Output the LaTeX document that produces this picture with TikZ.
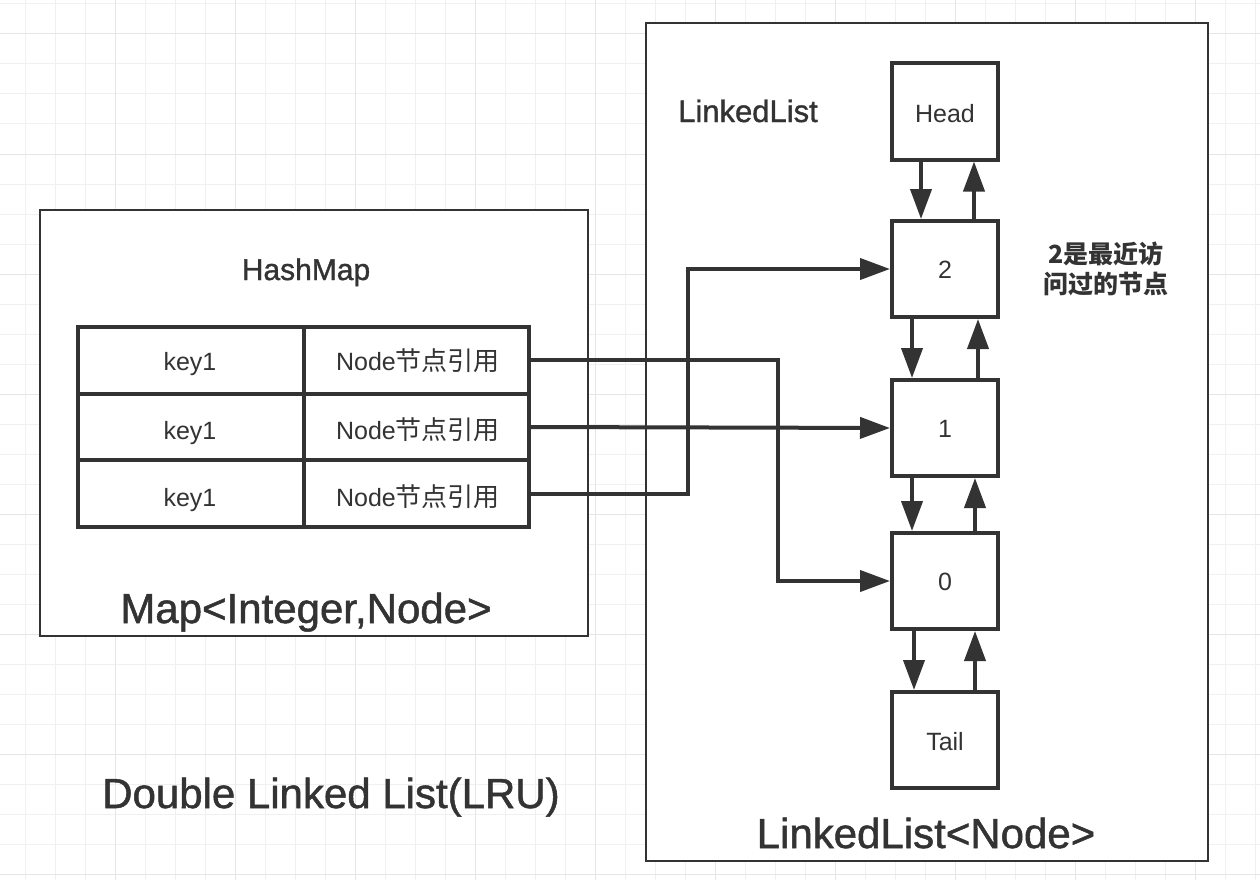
\documentclass[tikz,border=0pt]{standalone}
\usepackage{fontspec}
\setmainfont{Liberation Sans}
\newfontfamily\medf{Liberation Sans}[FakeBold=1.2]
\newfontfamily\cjk{Noto Sans CJK SC}
\usetikzlibrary{arrows.meta}
\definecolor{dk}{HTML}{333333}
\definecolor{gminor}{HTML}{F0F0F0}
\definecolor{gmajor}{HTML}{E6E6E6}
\tikzset{
  x=1pt, y=-1pt,
  cont/.style={draw=dk, line width=2pt, fill=white, inner sep=0pt},
  lbox/.style={draw=dk, line width=4pt, fill=white, minimum width=106pt, minimum height=96pt, inner sep=0pt},
  cell/.style={draw=dk, line width=4pt, minimum height=66.67pt, inner sep=0pt},
  lbl/.style={text=dk, inner sep=0pt, anchor=base},
  arr/.style={draw=dk, line width=4pt, -{Triangle[length=30pt,width=21pt]}},
}
\begin{document}
\begin{tikzpicture}
\useasboundingbox (0,0) rectangle (1260,880);
\fill[white] (0,0) rectangle (1260,880);
% grid
\begin{scope}
\clip (0,0) rectangle (1260,880);
\foreach \i in {0,...,41} { \draw[gminor, line width=1pt] ({25+30*\i},0) -- ({25+30*\i},880); }
\foreach \j in {0,...,29} { \draw[gminor, line width=1pt] (0,{4+30*\j}) -- (1260,{4+30*\j}); }
\foreach \i in {0,...,10} { \draw[gmajor, line width=1pt] ({115+120*\i},0) -- ({115+120*\i},880); }
\foreach \j in {0,...,7} { \draw[gmajor, line width=1pt] (0,{34+120*\j}) -- (1260,{34+120*\j}); }
\end{scope}

% containers
\node[cont, minimum width=548pt, minimum height=426pt] (hm) at (314,423) {};
\node[cont, minimum width=562pt, minimum height=838pt] (ll) at (927,442) {};

% labels
\node[lbl, font=\fontsize{30}{36}\selectfont\medf] (hmt) at (306,280) {HashMap};
\node[lbl, font=\fontsize{42}{48}\selectfont\medf] (hmb) at (306,623) {Map<Integer,Node>};
\node[lbl, font=\fontsize{42}{48}\selectfont\medf] (dll) at (331,808) {Double Linked List(LRU)};
\node[lbl, font=\fontsize{31}{36}\selectfont\medf] (llt) at (748,122) {LinkedList};
\node[lbl, font=\fontsize{42}{48}\selectfont\medf] (llb) at (926,848) {LinkedList<Node>};
\node[lbl, font=\fontsize{25}{30}\selectfont\cjk\bfseries] (note1) at (1106,263) {2是最近访};
\node[lbl, font=\fontsize{25}{30}\selectfont\cjk\bfseries] (note2) at (1106,293) {问过的节点};

% table
\node[cell, minimum width=226pt] (k1) at (191,360.33) {};
\node[cell, minimum width=225pt] (v1) at (416.5,360.33) {};
\node[cell, minimum width=226pt] (k2) at (191,427) {};
\node[cell, minimum width=225pt] (v2) at (416.5,427) {};
\node[cell, minimum width=226pt] (k3) at (191,493.67) {};
\node[cell, minimum width=225pt] (v3) at (416.5,493.67) {};
\foreach \r/\y in {1/370,2/439,3/506} {
  \node[lbl, font=\fontsize{25}{30}\selectfont] (kt\r) at (190,\y) {key1};
  \node[lbl, font=\fontsize{25}{30}\selectfont] (vt\r) at (418,\y) {Node{\cjk\fontsize{26}{30}\selectfont 节点引用}};
}

% list nodes
\node[lbox] (head) at (945,111.5) {};
\node[lbox] (n2) at (945,269) {};
\node[lbox] (n1) at (945,428) {};
\node[lbox] (n0) at (945,581) {};
\node[lbox] (tail) at (945,740) {};
\node[lbl, font=\fontsize{25}{30}\selectfont] (headt) at (945,122) {Head};
\node[lbl, font=\fontsize{25}{30}\selectfont] (n2t) at (945,278) {2};
\node[lbl, font=\fontsize{25}{30}\selectfont] (n1t) at (945,437) {1};
\node[lbl, font=\fontsize{25}{30}\selectfont] (n0t) at (945,590) {0};
\node[lbl, font=\fontsize{25}{30}\selectfont] (tailt) at (945,750) {Tail};

% vertical links
\draw[arr] ([xshift=-24pt]head.south) -- ([xshift=-24pt]n2.north);
\draw[arr] ([xshift=29pt]n2.north) -- ([xshift=29pt]head.south);
\draw[arr] ([xshift=-33pt]n2.south) -- ([xshift=-33pt]n1.north);
\draw[arr] ([xshift=33pt]n1.north) -- ([xshift=33pt]n2.south);
\draw[arr] ([xshift=-33pt]n1.south) -- ([xshift=-33pt]n0.north);
\draw[arr] ([xshift=30pt]n0.north) -- ([xshift=30pt]n1.south);
\draw[arr] ([xshift=-31pt]n0.south) -- ([xshift=-31pt]tail.north);
\draw[arr] ([xshift=30pt]tail.north) -- ([xshift=30pt]n0.south);

% map to list
\draw[arr] (v1.east) -| ([xshift=-112pt]n0.west) -- (n0.west);
\draw[arr] (v2.east) -- (n1.west);
\draw[arr] (v3.east) -| ([xshift=-202pt]n2.west) -- (n2.west);
\end{tikzpicture}
\end{document}
